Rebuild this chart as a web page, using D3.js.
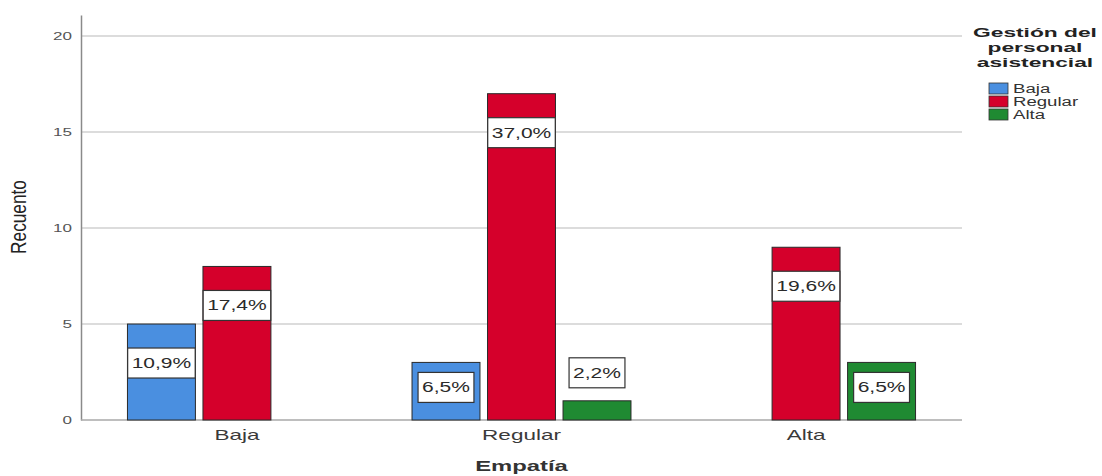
<!DOCTYPE html>
<html>
<head>
<meta charset="utf-8">
<script src="https://cdn.jsdelivr.net/npm/d3@7"></script>
<style>
  html, body { margin: 0; padding: 0; background: #fff; }
  svg { display: block; font-family: "Liberation Sans", Arial, sans-serif; }
</style>
</head>
<body>
<svg id="chart" width="1102" height="476"></svg>
<script>
// Empatía groups on the x axis, Gestión del personal asistencial as series
const categories = ["Baja", "Regular", "Alta"];
const seriesNames = ["Baja", "Regular", "Alta"];
const seriesBaja    = [5, 3, 0];
const seriesRegular = [8, 17, 9];
const seriesAlta    = [0, 1, 3];
const yTicks = [0, 5, 10, 15, 20];
const colors = ["#4a8fe0", "#d5002b", "#1f8a32"];

const seriesValues = [seriesBaja, seriesRegular, seriesAlta];
const total = d3.sum(seriesValues.flat());

const svg = d3.select("#chart");
const left = 81, right = 962, baseY = 420, topY = 15;

// widen glyphs horizontally (the chart uses a stretched type style)
function stretch(sel, k) {
  sel.each(function () {
    const w = this.getComputedTextLength();
    this.setAttribute("textLength", w * k);
    this.setAttribute("lengthAdjust", "spacingAndGlyphs");
  });
  return sel;
}

const x0 = d3.scaleBand().domain(categories).range([left, right])
  .paddingInner(0.204).paddingOuter(0.15);
const x1 = d3.scaleBand().domain(seriesNames).range([0, x0.bandwidth()])
  .paddingInner(0.1).paddingOuter(0.05);
const y = d3.scaleLinear().domain([0, 21.1]).range([baseY, topY]);

// gridlines
svg.append("g").selectAll("line").data(yTicks.filter(t => t > 0)).join("line")
  .attr("x1", left).attr("x2", right)
  .attr("y1", d => y(d)).attr("y2", d => y(d))
  .attr("stroke", "#dcdcdc").attr("stroke-width", 2);

// y axis
const yAxis = svg.append("g").attr("transform", `translate(${left},0)`)
  .call(d3.axisLeft(y).tickValues(yTicks).tickSize(0).tickPadding(9));
yAxis.select(".domain").attr("stroke", "#8a8a8a").attr("stroke-width", 1.5);
yAxis.selectAll("text").attr("font-size", 11).attr("fill", "#555")
  .attr("font-family", "Liberation Sans, Arial, sans-serif");
stretch(yAxis.selectAll("text"), 1.55);

// baseline
svg.append("line").attr("x1", left).attr("x2", right)
  .attr("y1", baseY).attr("y2", baseY)
  .attr("stroke", "#a8a8a8").attr("stroke-width", 1.5);

// x axis labels
const xAxis = svg.append("g").attr("transform", `translate(0,${baseY})`)
  .call(d3.axisBottom(x0).tickSize(0).tickPadding(9));
xAxis.select(".domain").remove();
xAxis.selectAll("text").attr("font-size", 15).attr("fill", "#3a3a3a")
  .attr("font-family", "Liberation Sans, Arial, sans-serif");
stretch(xAxis.selectAll("text"), 1.5);

// bars
const bars = [];
categories.forEach((c, i) => {
  seriesNames.forEach((s, j) => {
    const v = seriesValues[j][i];
    if (v > 0) bars.push({ cat: c, ser: s, j, v });
  });
});

svg.append("g").selectAll("rect").data(bars).join("rect")
  .attr("x", d => x0(d.cat) + x1(d.ser))
  .attr("y", d => y(d.v))
  .attr("width", x1.bandwidth())
  .attr("height", d => y(0) - y(d.v))
  .attr("fill", d => colors[d.j])
  .attr("stroke", "#2a2a2a").attr("stroke-width", 1);

// percentage labels
const fmt = v => d3.format(".1f")(v * 100 / total).replace(".", ",") + "%";
const lab = svg.append("g").selectAll("g").data(bars).join("g")
  .attr("transform", d => {
    const cx = x0(d.cat) + x1(d.ser) + x1.bandwidth() / 2;
    const h = y(0) - y(d.v);
    const cy = h >= 80 ? y(d.v) + 39 : (h >= 40 ? y(d.v) + 25 : y(d.v) - 28);
    return `translate(${cx},${cy})`;
  });
const labRect = lab.append("rect");
const labText = lab.append("text")
  .attr("text-anchor", "middle").attr("dy", "0.36em")
  .attr("font-size", 14).attr("fill", "#2a2a2a")
  .text(d => fmt(d.v));
stretch(labText, 1.5);
labRect.each(function (d, i) {
  const t = labText.nodes()[i];
  const w = +t.getAttribute("textLength") + 8;
  d3.select(this).attr("x", -w / 2).attr("y", -15).attr("width", w).attr("height", 30)
    .attr("fill", "#fff").attr("stroke", "#333").attr("stroke-width", 1.2);
});

// axis titles
stretch(svg.append("text").attr("x", (left + right) / 2).attr("y", 471)
  .attr("text-anchor", "middle").attr("font-size", 14).attr("font-weight", "bold")
  .attr("fill", "#333").text("Empatía"), 1.7);

stretch(svg.append("text")
  .attr("transform", "translate(26,217) scale(1.5,1) rotate(-90)")
  .attr("text-anchor", "middle").attr("font-size", 15)
  .attr("fill", "#222").text("Recuento"), 1.15);

// legend
const lg = svg.append("g");
["Gestión del", "personal", "asistencial"].forEach((t, i) => {
  stretch(lg.append("text").attr("x", 1035).attr("y", 37 + i * 15)
    .attr("text-anchor", "middle").attr("font-size", 13).attr("font-weight", "bold")
    .attr("fill", "#222").text(t), 1.75);
});
const items = lg.selectAll("g.item").data(seriesNames).join("g").attr("class", "item")
  .attr("transform", (d, i) => `translate(989,${83 + i * 13})`);
items.append("rect").attr("width", 19).attr("height", 11)
  .attr("fill", (d, i) => colors[i]).attr("stroke", "#333").attr("stroke-width", 0.8);
stretch(items.append("text").attr("x", 24).attr("y", 10)
  .attr("font-size", 12).attr("fill", "#333").text(d => d), 1.55);
</script>
</body>
</html>
